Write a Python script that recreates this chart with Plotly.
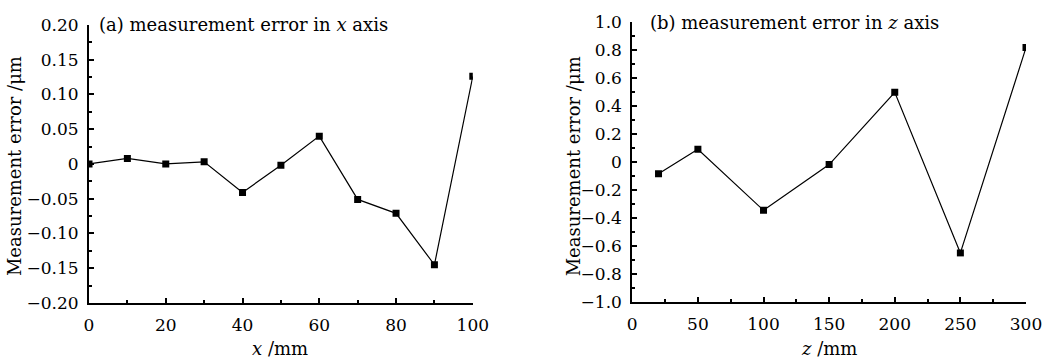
import plotly.graph_objects as go

# Data
x_pos = [0, 10, 20, 30, 40, 50, 60, 70, 80, 90, 100]
x_err = [0.0, 0.008, 0.0, 0.003, -0.041, -0.002, 0.040, -0.051, -0.071, -0.145, 0.126]
z_pos = [20, 50, 100, 150, 200, 250, 300]
z_err = [-0.084, 0.091, -0.345, -0.018, 0.498, -0.649, 0.817]

y1_vals = [0.20, 0.15, 0.10, 0.05, 0, -0.05, -0.10, -0.15, -0.20]
y1_text = ["0.20", "0.15", "0.10", "0.05", "0", "\u22120.05", "\u22120.10", "\u22120.15", "\u22120.20"]
y2_vals = [1.0, 0.8, 0.6, 0.4, 0.2, 0, -0.2, -0.4, -0.6, -0.8, -1.0]
y2_text = ["1.0", "0.8", "0.6", "0.4", "0.2", "0", "\u22120.2", "\u22120.4", "\u22120.6", "\u22120.8", "\u22121.0"]
x1_vals = [0, 20, 40, 60, 80, 100]
x2_vals = [0, 50, 100, 150, 200, 250, 300]

FONT = "DejaVu Serif"
FS_TICK = 17
FS_TEXT = 18
fig = go.Figure()

fig.add_trace(go.Scatter(x=x_pos, y=x_err, mode="lines+markers",
                         line=dict(color="black", width=1.2),
                         marker=dict(symbol="square", size=7, color="black"),
                         xaxis="x", yaxis="y", showlegend=False))
fig.add_trace(go.Scatter(x=z_pos, y=z_err, mode="lines+markers",
                         line=dict(color="black", width=1.2),
                         marker=dict(symbol="square", size=7, color="black"),
                         xaxis="x2", yaxis="y2", showlegend=False))

axis_common = dict(showline=True, linecolor="black", linewidth=2, ticks="inside",
                   ticklen=5, tickwidth=1.5, tickcolor="black", showgrid=False,
                   zeroline=False, mirror=False,
                   tickfont=dict(family=FONT, size=FS_TICK, color="black"))

fig.update_layout(
    width=1054, height=362,
    margin=dict(l=89, r=25, t=12, b=59),
    paper_bgcolor="white", plot_bgcolor="white",
    font=dict(family=FONT, size=FS_TICK, color="black"),
    xaxis=dict(domain=[0, 0.4096], range=[0, 100], tickvals=x1_vals,
               ticklabelstandoff=6,
               minor=dict(ticks="inside", ticklen=3, dtick=10, tickcolor="black", tickwidth=1.5),
               anchor="y", **axis_common),
    yaxis=dict(domain=[0, 0.9897], range=[-0.2, 0.2], tickvals=y1_vals, ticktext=y1_text,
               ticklabelstandoff=5,
               minor=dict(ticks="inside", ticklen=3, dtick=0.025, tick0=0, tickcolor="black", tickwidth=1.5),
               anchor="x", **axis_common),
    xaxis2=dict(domain=[0.5798, 1], range=[0, 300], tickvals=x2_vals,
                ticklabelstandoff=6,
                minor=dict(ticks="inside", ticklen=3, dtick=25, tickcolor="black", tickwidth=1.5),
                anchor="y2", **axis_common),
    yaxis2=dict(domain=[0.0034, 1], range=[-1.0, 1.0], tickvals=y2_vals, ticktext=y2_text,
                ticklabelstandoff=5,
                minor=dict(ticks="inside", ticklen=3, dtick=0.1, tick0=0, tickcolor="black", tickwidth=1.5),
                anchor="x2", **axis_common),
)

ann = [
    dict(text="(a) measurement error in <i>x</i> axis", x=97, y=15, xanchor="left", yanchor="middle"),
    dict(text="(b) measurement error in <i>z</i> axis", x=650, y=13, xanchor="left", yanchor="middle"),
    dict(text="<i>x</i> /mm", x=281, y=350, xanchor="center", yanchor="middle"),
    dict(text="<i>z</i> /mm", x=831, y=350, xanchor="center", yanchor="middle"),
    dict(text="Measurement error /\u03bcm", x=15, y=161, xanchor="center", yanchor="middle", textangle=-90),
    dict(text="Measurement error /\u03bcm", x=575, y=161, xanchor="center", yanchor="middle", textangle=-90),
]
for a in ann:
    fig.add_annotation(xref="paper", yref="paper",
                       x=(a["x"] - 89) / 940, y=(303 - a["y"]) / 291,
                       text=a["text"], showarrow=False,
                       xanchor=a["xanchor"], yanchor=a["yanchor"],
                       textangle=a.get("textangle", 0),
                       font=dict(family=FONT, size=FS_TEXT, color="black"))

fig.write_html("out.html")
